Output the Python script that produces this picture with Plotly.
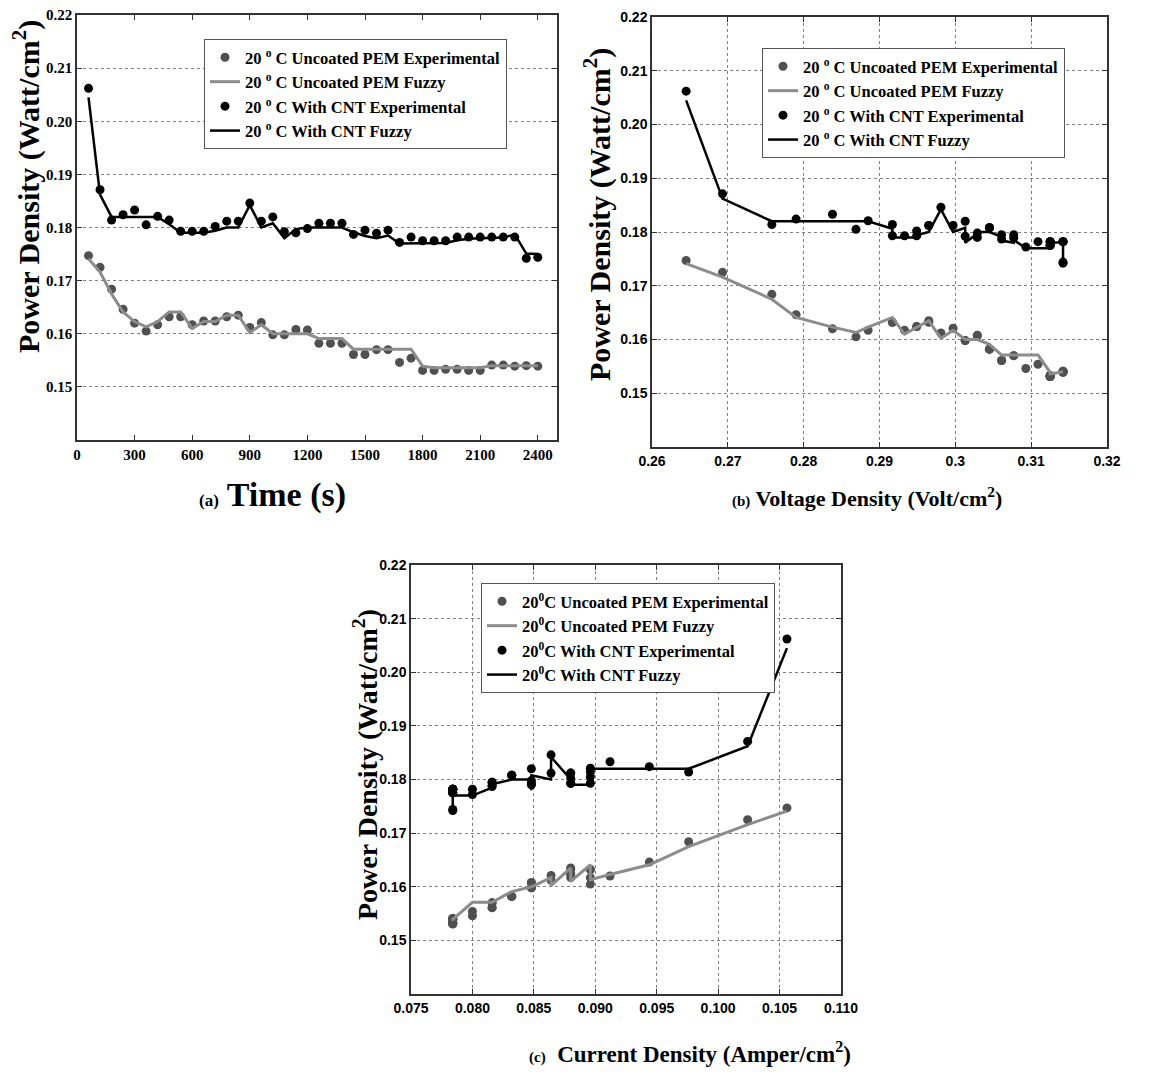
import plotly.graph_objects as go

# ---------------- data ----------------
time_s = [60, 120, 180, 240, 300, 360, 420, 480, 540, 600,
          660, 720, 780, 840, 900, 960, 1020, 1080, 1140, 1200,
          1260, 1320, 1380, 1440, 1500, 1560, 1620, 1680, 1740, 1800,
          1860, 1920, 1980, 2040, 2100, 2160, 2220, 2280, 2340, 2400]

voltage_density = [0.2645, 0.2693, 0.2758, 0.2790, 0.2838, 0.2869, 0.2885, 0.2917, 0.2917, 0.2933,
                   0.2949, 0.2949, 0.2965, 0.2965, 0.2981, 0.2997, 0.3013, 0.3013, 0.3029, 0.3029,
                   0.3045, 0.3045, 0.3045, 0.3061, 0.3061, 0.3077, 0.3077, 0.3093, 0.3109, 0.3125,
                   0.3125, 0.3125, 0.3125, 0.3125, 0.3125, 0.3142, 0.3142, 0.3142, 0.3142, 0.3142]

current_density = [0.1056, 0.1024, 0.0976, 0.0944, 0.0912, 0.0896, 0.0896, 0.0896, 0.0896, 0.0880,
                   0.0880, 0.0880, 0.0880, 0.0880, 0.0864, 0.0864, 0.0848, 0.0848, 0.0848, 0.0848,
                   0.0832, 0.0832, 0.0832, 0.0816, 0.0816, 0.0816, 0.0816, 0.0800, 0.0800, 0.0784,
                   0.0784, 0.0784, 0.0784, 0.0784, 0.0784, 0.0784, 0.0784, 0.0784, 0.0784, 0.0784]

uncoated_exp = [0.1747, 0.1725, 0.1684, 0.1646, 0.1620, 0.1605, 0.1617, 0.1632, 0.1632, 0.1617,
                0.1624, 0.1624, 0.1632, 0.1635, 0.1612, 0.1621, 0.1598, 0.1598, 0.1608, 0.1607,
                0.1582, 0.1582, 0.1582, 0.1561, 0.1561, 0.1570, 0.1570, 0.1546, 0.1554, 0.1531,
                0.1531, 0.1533, 0.1533, 0.1531, 0.1531, 0.1541, 0.1541, 0.1539, 0.1540, 0.1539]

uncoated_fuzzy = [0.1741, 0.1716, 0.1675, 0.1641, 0.1623, 0.1613, 0.1623, 0.1641, 0.1641, 0.1610,
                  0.1623, 0.1623, 0.1635, 0.1635, 0.1602, 0.1617, 0.1600, 0.1600, 0.1600, 0.1600,
                  0.1591, 0.1591, 0.1591, 0.1571, 0.1571, 0.1571, 0.1571, 0.1571, 0.1571, 0.1539,
                  0.1536, 0.1536, 0.1536, 0.1536, 0.1536, 0.1540, 0.1540, 0.1540, 0.1540, 0.1540]

cnt_exp = [0.2062, 0.1871, 0.1814, 0.1824, 0.1833, 0.1805, 0.1821, 0.1814, 0.1793, 0.1793,
           0.1793, 0.1802, 0.1812, 0.1812, 0.1846, 0.1812, 0.1820, 0.1792, 0.1790, 0.1798,
           0.1808, 0.1808, 0.1808, 0.1787, 0.1795, 0.1789, 0.1795, 0.1772, 0.1782, 0.1775,
           0.1775, 0.1775, 0.1782, 0.1782, 0.1782, 0.1782, 0.1782, 0.1782, 0.1742, 0.1744]

cnt_fuzzy = [0.2045, 0.1862, 0.1820, 0.1820, 0.1820, 0.1820, 0.1820, 0.1806, 0.1790, 0.1790,
             0.1790, 0.1794, 0.1800, 0.1800, 0.1842, 0.1800, 0.1808, 0.1780, 0.1797, 0.1800,
             0.1800, 0.1800, 0.1800, 0.1791, 0.1784, 0.1780, 0.1785, 0.1770, 0.1770, 0.1770,
             0.1770, 0.1771, 0.1776, 0.1779, 0.1780, 0.1781, 0.1781, 0.1787, 0.1751, 0.1750]

y_ticks = [0.15, 0.16, 0.17, 0.18, 0.19, 0.20, 0.21, 0.22]
y_ticktext = ["0.15", "0.16", "0.17", "0.18", "0.19", "0.20", "0.21", "0.22"]
time_ticks = [0, 300, 600, 900, 1200, 1500, 1800, 2100, 2400]
volt_ticks = [0.26, 0.27, 0.28, 0.29, 0.30, 0.31, 0.32]
volt_ticktext = ["0.26", "0.27", "0.28", "0.29", "0.3", "0.31", "0.32"]
curr_ticks = [0.075, 0.080, 0.085, 0.090, 0.095, 0.100, 0.105, 0.110]
curr_ticktext = ["0.075", "0.080", "0.085", "0.090", "0.095", "0.100", "0.105", "0.110"]

# ---------------- styling ----------------
OFF = 8  # page body margin
W, H = 1157 - OFF, 1072 - OFF
SERIF = "Liberation Serif, Times New Roman, serif"
SANSN = "Liberation Sans Narrow, Arial Narrow, Liberation Sans, Arial, sans-serif"
UNC_MARK = "#505050"
UNC_LINE = "#8c8c8c"
BLACK = "#000000"

def px_x(p):
    return (p - OFF) / W

def px_y(p):
    return 1 - (p - OFF) / H

fig = go.Figure()

panels = [
    dict(x=time_s, xa="x", ya="y", legend="legend", deg="20 <sup>o</sup> C"),
    dict(x=voltage_density, xa="x2", ya="y2", legend="legend2", deg="20 <sup>o</sup> C"),
    dict(x=current_density, xa="x3", ya="y3", legend="legend3", deg="20<sup>0</sup>C"),
]

for p in panels:
    fig.add_trace(go.Scatter(
        x=p["x"], y=uncoated_exp, mode="markers", xaxis=p["xa"], yaxis=p["ya"],
        name=p["deg"] + " Uncoated PEM Experimental", legend=p["legend"],
        marker=dict(color=UNC_MARK, size=9)))
    fig.add_trace(go.Scatter(
        x=p["x"], y=uncoated_fuzzy, mode="lines", xaxis=p["xa"], yaxis=p["ya"],
        name=p["deg"] + " Uncoated PEM Fuzzy", legend=p["legend"],
        line=dict(color=UNC_LINE, width=3)))
    fig.add_trace(go.Scatter(
        x=p["x"], y=cnt_exp, mode="markers", xaxis=p["xa"], yaxis=p["ya"],
        name=p["deg"] + " With CNT Experimental", legend=p["legend"],
        marker=dict(color=BLACK, size=9)))
    fig.add_trace(go.Scatter(
        x=p["x"], y=cnt_fuzzy, mode="lines", xaxis=p["xa"], yaxis=p["ya"],
        name=p["deg"] + " With CNT Fuzzy", legend=p["legend"],
        line=dict(color=BLACK, width=2.5)))

axis_common = dict(
    showline=True, linecolor="#333333", linewidth=1.5, mirror="ticks",
    ticks="inside", ticklen=5, tickcolor="#333333", zeroline=False,
    gridcolor="#808080", griddash="dot", gridwidth=1, automargin=False,
    ticklabeloverflow="allow",
)

# panel domains (pixels in the reference picture)
dom_a = dict(x=[px_x(77), px_x(557)], y=[px_y(440), px_y(15)])
dom_b = dict(x=[px_x(652), px_x(1107)], y=[px_y(447), px_y(17)])
dom_c = dict(x=[px_x(411), px_x(841)], y=[px_y(994), px_y(565)])

serif_tick = dict(family=SERIF, size=15, color="black", weight="bold")
sans_tick = dict(family=SANSN, size=14, color="black", weight="bold")

fig.update_layout(
    width=W, height=H,
    margin=dict(l=0, r=0, t=0, b=0, autoexpand=False),
    paper_bgcolor="white", plot_bgcolor="white",
    showlegend=True,
    xaxis=dict(domain=dom_a["x"], anchor="y", range=[0, 2500], tickvals=time_ticks,
               showgrid=False, tickfont=serif_tick, **axis_common),
    yaxis=dict(domain=dom_a["y"], anchor="x", range=[0.14, 0.22], tickvals=y_ticks,
               ticktext=y_ticktext, showgrid=True, tickfont=serif_tick, **axis_common),
    xaxis2=dict(domain=dom_b["x"], anchor="y2", range=[0.26, 0.32], tickvals=volt_ticks,
                ticktext=volt_ticktext, showgrid=True, tickfont=sans_tick, **axis_common),
    yaxis2=dict(domain=dom_b["y"], anchor="x2", range=[0.14, 0.22], tickvals=y_ticks,
                ticktext=y_ticktext, showgrid=True, tickfont=sans_tick, **axis_common),
    xaxis3=dict(domain=dom_c["x"], anchor="y3", range=[0.075, 0.110], tickvals=curr_ticks,
                ticktext=curr_ticktext, showgrid=True, tickfont=sans_tick, **axis_common),
    yaxis3=dict(domain=dom_c["y"], anchor="x3", range=[0.14, 0.22], tickvals=y_ticks,
                ticktext=y_ticktext, showgrid=True, tickfont=sans_tick, **axis_common),
)

legend_common = dict(
    xanchor="left", yanchor="top", bgcolor="white",
    bordercolor="#555555", borderwidth=1,
    font=dict(family=SERIF, size=16.5, color="black", weight="bold"),
    tracegroupgap=0, itemwidth=30,
)
fig.update_layout(
    legend=dict(x=px_x(204), y=px_y(39), **legend_common),
    legend2=dict(x=px_x(762), y=px_y(48), **legend_common),
    legend3=dict(x=px_x(481), y=px_y(583), **legend_common),
)

ylabel = "Power Density (Watt/cm<sup>2</sup>)"
annots = [
    dict(text=ylabel, x=px_x(26), y=px_y(187), textangle=-90, size=30),
    dict(text=ylabel, x=px_x(597), y=px_y(215), textangle=-90, size=30),
    dict(text=ylabel, x=px_x(365), y=px_y(765), textangle=-90, size=28),
    dict(text="<span style='font-size:17px'>(a)</span> Time (s)", x=px_x(272), y=px_y(495), textangle=0, size=34),
    dict(text="<span style='font-size:15px'>(b)</span> Voltage Density (Volt/cm<sup>2</sup>)", x=px_x(867), y=px_y(497), textangle=0, size=22),
    dict(text="<span style='font-size:15px'>(c)</span>  Current Density (Amper/cm<sup>2</sup>)", x=px_x(690), y=px_y(1052), textangle=0, size=23),
]
for a in annots:
    fig.add_annotation(
        text=a["text"], x=a["x"], y=a["y"], xref="paper", yref="paper",
        xanchor="center", yanchor="middle", showarrow=False, textangle=a["textangle"],
        font=dict(family=SERIF, size=a["size"], color="black", weight="bold"))

fig.write_html("out.html")
